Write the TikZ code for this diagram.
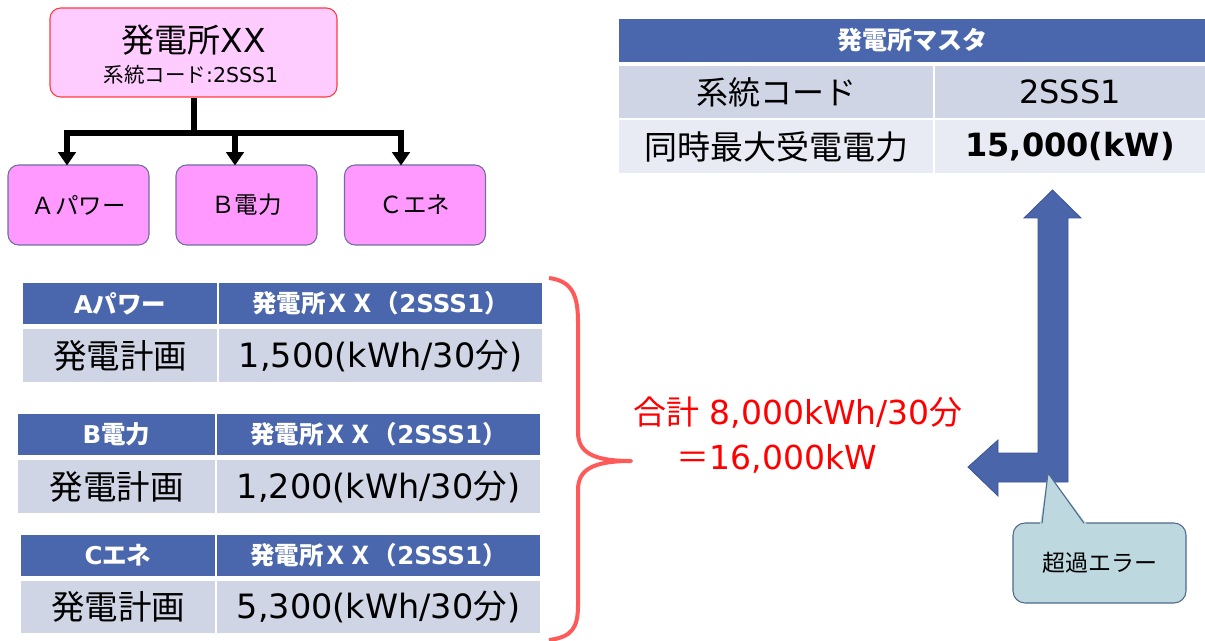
\documentclass[tikz,border=0pt]{standalone}
\usepackage{fontspec}
\setmainfont{DejaVu Sans}
\newfontfamily\cjkf{Noto Sans CJK JP}
\usetikzlibrary{arrows.meta}
\newcommand\J[1]{{\cjkf #1}}
\newcommand\px[1]{\fontsize{\fpeval{#1*0.75}pt}{\fpeval{#1*0.9}pt}\selectfont}
\definecolor{hblue}{RGB}{74,102,172}
\definecolor{rowa}{RGB}{208,213,230}
\definecolor{rowb}{RGB}{233,235,244}
\definecolor{topfill}{RGB}{255,204,255}
\definecolor{topline}{RGB}{255,60,60}
\definecolor{kidfill}{RGB}{255,153,255}
\definecolor{kidline}{RGB}{110,110,160}
\definecolor{bracered}{RGB}{255,90,90}
\definecolor{callfill}{RGB}{189,216,222}
\definecolor{callline}{RGB}{80,105,140}
\definecolor{arrowblue}{RGB}{74,101,170}
\definecolor{arrowline}{RGB}{60,85,150}
\newcommand\cell[7]{\node[#6, minimum width={(#4-#2)*0.75pt}, minimum height={(#5-#3)*0.75pt}] (#1) at ({(#2+#4)/2},{(#3+#5)/2}) {#7};}
\tikzset{
  hdr/.style={fill=hblue, draw=white, line width=1.5pt, text=white, font=\bfseries\px{24.5}, inner sep=0pt},
  rowc/.style={fill=rowa, draw=white, line width=1.5pt, font=\px{33.5}, inner sep=0pt},
  rowd/.style={fill=rowb, draw=white, line width=1.5pt, font=\px{33.5}, inner sep=0pt},
  topbox/.style={fill=topfill, draw=topline, line width=0.8pt, rounded corners=8pt, inner sep=0pt,
    minimum width={287*0.75pt}, minimum height={89*0.75pt}},
  kid/.style={fill=kidfill, draw=kidline, line width=0.8pt, rounded corners=8pt, inner sep=0pt,
    minimum width={141*0.75pt}, minimum height={80*0.75pt}, font=\px{23.5}},
  tree/.style={line width=4.5pt, draw=black, -{Triangle[width=13pt,length=10pt]}},
  redtxt/.style={text=red, font=\px{33}, inner sep=0pt},
}
\begin{document}
\begin{tikzpicture}[x=0.75pt, y=-0.75pt]
\useasboundingbox (0,0) rectangle (1205,641);
\fill[white] (0,0) rectangle (1205,641);

% tree
\node[topbox] (top) at (193.5,52.5) {};
\node[inner sep=0pt, font=\px{33}] (toptitle) at (193.5,40) {\J{発電所}XX};
\node[inner sep=0pt, font=\px{20.5}] (topcode) at (191,75) {\J{系統コード}:2SSS1};
\node[kid] (ka) at (78.5,205) {\J{Ａパワー}};
\node[kid] (kb) at (246.5,205) {\J{Ｂ電力}};
\node[kid] (kc) at (415,205) {\J{Ｃエネ}};
\coordinate (j) at (193.5,133);
\coordinate (pa) at (67,165.5);
\coordinate (pb) at (235,165.5);
\coordinate (pc) at (401,165.5);
\draw[line width=4.5pt] (top.south) -- (j);
\draw[tree] (j) -| (pa);
\draw[tree] (j) -| (pc);
\draw[tree] (j) -| (pb);

% master table
\cell{mh}{618}{18}{1206}{63}{hdr, font=\bfseries\px{25}}{\J{発電所マスタ}}
\cell{m1a}{618}{65}{934}{119}{rowc, font=\px{32}}{\J{系統コード}}
\cell{m1b}{934}{65}{1206}{119}{rowc, font=\px{32}}{2SSS1}
\cell{m2a}{618}{119}{934}{174}{rowd, font=\px{33}}{\J{同時最大受電電力}}
\cell{m2b}{934}{119}{1206}{174}{rowd, font=\bfseries\px{32}}{15,000(kW)}

% plan tables
\cell{ah1}{22}{282}{218}{325}{hdr}{A\J{パワー}}
\cell{ah2}{218}{282}{543}{325}{hdr}{\J{発電所ＸＸ（}2SSS1\J{）}}
\cell{ar1}{22}{328}{218}{383}{rowc}{\J{発電計画}}
\cell{ar2}{218}{328}{543}{383}{rowc}{1,500(kWh/30\J{分})}

\cell{bh1}{17}{413}{216}{456}{hdr}{B\J{電力}}
\cell{bh2}{216}{413}{541}{456}{hdr}{\J{発電所ＸＸ（}2SSS1\J{）}}
\cell{br1}{17}{459}{216}{514}{rowc}{\J{発電計画}}
\cell{br2}{216}{459}{541}{514}{rowc}{1,200(kWh/30\J{分})}

\cell{ch1}{20}{534}{216}{577}{hdr}{C\J{エネ}}
\cell{ch2}{216}{534}{541}{577}{hdr}{\J{発電所ＸＸ（}2SSS1\J{）}}
\cell{cr1}{20}{580}{216}{634}{rowc}{\J{発電計画}}
\cell{cr2}{216}{580}{541}{634}{rowc}{5,300(kWh/30\J{分})}

% brace
\draw[bracered, line width=3pt, line join=round]
  (549,278) .. controls (572,281) and (578,295) .. (578,322) -- (578,432)
  .. controls (578,452) and (592,461) .. (631,461)
  .. controls (592,461) and (578,470) .. (578,490) -- (578,605)
  .. controls (578,628) and (572,637) .. (549,640);

% total
\node[redtxt] (sum1) at (798,413) {\J{合計} 8,000kWh/30\J{分}};
\node[redtxt] (sum2) at (777,459) {\J{＝}16,000kW};

% bent arrow
\filldraw[fill=arrowblue, draw=arrowline, line width=0.6pt, line join=miter]
  (1038,218) -- (1024,218) -- (1052.5,190) -- (1081,218) -- (1068,218) -- (1068,482)
  -- (998,482) -- (998,496) -- (968,467) -- (998,440) -- (998,453) -- (1038,453) -- cycle;

% callout
\node[fill=callfill, draw=callline, line width=0.8pt, rounded corners=9pt,
  minimum width={173*0.75pt}, minimum height={80*0.75pt}, font=\px{23}, inner sep=0pt]
  (err) at (1099.5,563) {\J{超過エラー}};
\coordinate (tip) at (1048,473);
\fill[callfill] (1040,524.5) -- (tip) -- (1087,524.5) -- cycle;
\draw[callline, line width=0.8pt, line join=miter] (1042,523.3) -- (tip) -- (1084,523.3);
\end{tikzpicture}
\end{document}
